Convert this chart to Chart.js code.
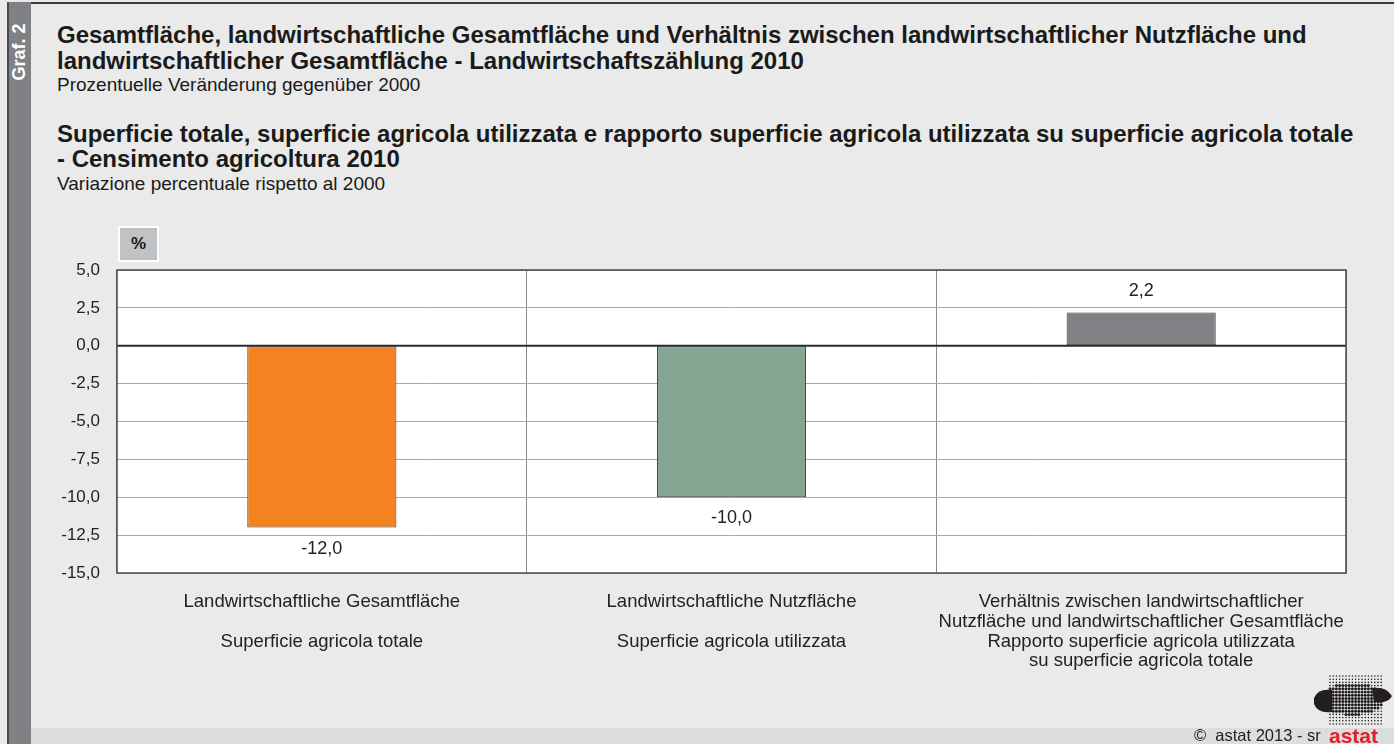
<!DOCTYPE html>
<html>
<head>
<meta charset="utf-8">
<script src="https://cdn.jsdelivr.net/npm/chart.js@4/dist/chart.umd.min.js"></script>
<style>
  html, body { margin: 0; padding: 0; }
  body { width: 1394px; height: 744px; position: relative; overflow: hidden; background: #e9eae9;
         font-family: "Liberation Sans", Arial, sans-serif; color: #1a1a1a; }
  #topline { position: absolute; left: 7px; top: 2px; width: 1387px; height: 2px; background: #3a3a3a; }
  #strip { position: absolute; left: 7px; top: 2px; width: 24px; height: 742px; background: #808184; border-left: 2px solid #4a4a4a; box-sizing: border-box; }
  #graf { position: absolute; left: 19px; top: 52px; transform: translate(-50%, -50%) rotate(-90deg);
          color: #fff; font-weight: bold; font-size: 18px; white-space: nowrap; }
  #footer { position: absolute; left: 31px; top: 728px; width: 1363px; height: 16px; background: #dcdddf; }
  .t { position: absolute; left: 57px; white-space: nowrap; }
  .b { font-weight: bold; font-size: 24px; line-height: 26px; }
  .s { font-size: 19px; line-height: 22px; }
  #pct { position: absolute; left: 118px; top: 226px; width: 37px; height: 32px; background: #c1c2c4;
         border: 2px solid #fff; font-weight: bold; font-size: 17px; text-align: center; line-height: 32px; }
  #copy { position: absolute; left: 1194px; top: 726px; font-size: 16.5px; color: #222; }
  #astat { position: absolute; left: 1329px; top: 724px; font-size: 21px; font-weight: bold; color: #e3202a; }
  canvas { position: absolute; left: 0; top: 0; }
</style>
</head>
<body>
<div id="topline"></div>
<div id="strip"></div>
<div id="graf">Graf. 2</div>
<div id="footer"></div>

<div class="t b" style="top:22px">Gesamtfläche, landwirtschaftliche Gesamtfläche und Verhältnis zwischen landwirtschaftlicher Nutzfläche und</div>
<div class="t b" style="top:48px">landwirtschaftlicher Gesamtfläche - Landwirtschaftszählung 2010</div>
<div class="t s" style="top:74px">Prozentuelle Veränderung gegenüber 2000</div>
<div class="t b" style="top:121px">Superficie totale, superficie agricola utilizzata e rapporto superficie agricola utilizzata su superficie agricola totale</div>
<div class="t b" style="top:146px">- Censimento agricoltura 2010</div>
<div class="t s" style="top:173px">Variazione percentuale rispetto al 2000</div>

<div id="pct">%</div>

<div style="position:absolute;left:0;top:0;width:1394px;height:744px">
  <canvas id="chart" width="1394" height="744"></canvas>
</div>

<svg style="position:absolute;left:1310px;top:674px" width="84" height="54" id="logo"></svg>
<div id="copy">©&nbsp; astat 2013 - sr</div>
<div id="astat">astat</div>

<script>
// Daten
const categories = [
  ['Landwirtschaftliche Gesamtfläche', '', 'Superficie agricola totale'],
  ['Landwirtschaftliche Nutzfläche', '', 'Superficie agricola utilizzata'],
  ['Verhältnis zwischen landwirtschaftlicher', 'Nutzfläche und landwirtschaftlicher Gesamtfläche', 'Rapporto superficie agricola utilizzata', 'su superficie agricola totale']
];
const values = [-12.0, -10.0, 2.2];
const barColors = ['#f58220', '#85a693', '#808285'];
const yTicks = [5, 2.5, 0, -2.5, -5, -7.5, -10, -12.5, -15];

const fmt = v => v.toFixed(1).replace('.', ',');

// Logo (Punktraster)
(function () {
  const svg = document.getElementById('logo');
  let s = '';
  const shape = (x, y) => {
    const dx = x - 42, dy = y - 25;
    return (dx * dx) / (32 * 32) + (dy * dy) / (16 * 16) < 1 && !(y > 38 && (x < 26 || x > 58));
  };
  for (let y = 2; y < 52; y += 3.2) {
    for (let x = 20; x < 74; x += 3.2) {
      if (shape(x, y)) s += `<circle cx="${x}" cy="${y}" r="1.5" fill="#231f20"/>`;
      else s += `<circle cx="${x}" cy="${y}" r="0.8" fill="#231f20"/>`;
    }
  }
  s += '<path d="M4 24 Q8 14 22 16 L22 38 Q8 40 4 30 Z" fill="#231f20"/>';
  s += '<path d="M62 14 Q76 12 82 22 Q78 30 64 28 Z" fill="#231f20"/>';
  svg.innerHTML = s;
})();

const plotBg = {
  id: 'plotBg',
  beforeDraw(chart) {
    const { ctx, chartArea: a } = chart;
    ctx.save();
    ctx.fillStyle = '#ffffff';
    ctx.fillRect(a.left, a.top, a.right - a.left, a.bottom - a.top);
    ctx.restore();
  },
  afterDatasetsDraw(chart) {
    const { ctx, chartArea: a } = chart;
    const y0 = chart.scales.y.getPixelForValue(0);
    ctx.save();
    ctx.strokeStyle = '#2b2b2b';
    ctx.lineWidth = 2;
    ctx.beginPath();
    ctx.moveTo(a.left, y0);
    ctx.lineTo(a.right, y0);
    ctx.stroke();
    ctx.strokeStyle = '#4a4a4a';
    ctx.lineWidth = 1.5;
    ctx.strokeRect(a.left, a.top, a.right - a.left, a.bottom - a.top);
    // Wertelabels
    ctx.fillStyle = '#222';
    ctx.font = '18px "Liberation Sans", Arial, sans-serif';
    ctx.textAlign = 'center';
    ctx.textBaseline = 'middle';
    chart.getDatasetMeta(0).data.forEach((bar, i) => {
      const v = values[i];
      const y = v < 0 ? bar.y + 21 : bar.y - 21;
      ctx.fillText(fmt(v), bar.x, y);
    });
    ctx.restore();
  }
};

new Chart(document.getElementById('chart'), {
  type: 'bar',
  data: {
    labels: categories,
    datasets: [{
      data: values,
      backgroundColor: barColors,
      borderColor: '#3a3a3a',
      borderWidth: 1,
      borderSkipped: false,
      categoryPercentage: 1,
      barPercentage: 0.364
    }]
  },
  options: {
    responsive: false,
    animation: false,
    events: [],
    layout: { padding: { top: 270, left: 40, right: 48, bottom: 0 } },
    plugins: { legend: { display: false }, tooltip: { enabled: false } },
    scales: {
      x: {
        grid: { offset: true, color: '#8a8a8a', lineWidth: 1, drawTicks: false },
        border: { display: false },
        ticks: {
          color: '#222',
          padding: 19,
          maxRotation: 0,
          autoSkip: false,
          font: { family: '"Liberation Sans", Arial, sans-serif', size: 18.5, lineHeight: 1.07 }
        },
        afterFit(scale) { scale.height = 171; }
      },
      y: {
        min: -15,
        max: 5,
        afterBuildTicks(scale) { scale.ticks = yTicks.map(v => ({ value: v })); },
        grid: {
          color: '#a8a8a8',
          lineWidth: 1,
          drawTicks: false
        },
        border: { display: false },
        ticks: {
          color: '#222',
          padding: 17,
          font: { family: '"Liberation Sans", Arial, sans-serif', size: 17 },
          callback: v => fmt(v)
        },
        afterFit(scale) { scale.width = 77; }
      }
    }
  },
  plugins: [plotBg]
});
</script>
</body>
</html>
